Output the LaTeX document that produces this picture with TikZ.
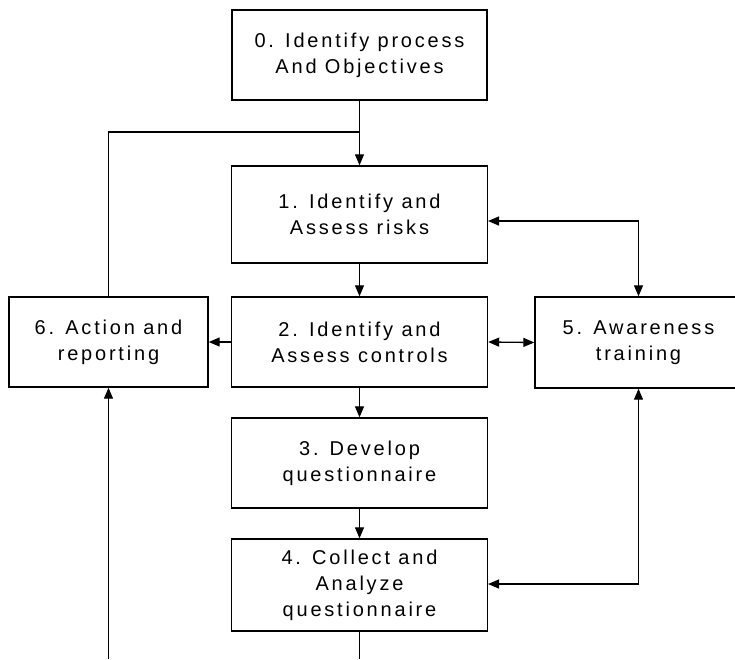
\documentclass[tikz,border=0pt]{standalone}
\usepackage{fontspec}
\setmainfont{Liberation Sans}[LetterSpace=14]
\usetikzlibrary{arrows.meta,calc}
\tikzset{
  stepbox/.style={draw, line width=1.4pt, inner sep=0pt, align=center,
    font=\fontsize{20}{26}\selectfont},
  conn/.style={line width=1.3pt},
  arr/.style={conn, -{Triangle[length=11pt,width=9pt]}},
  arrboth/.style={conn, {Triangle[length=11pt,width=9pt]}-{Triangle[length=11pt,width=9pt]}}
}
\begin{document}
\begin{tikzpicture}[x=1pt,y=-1pt]
\clip (0,0) rectangle (735,659);
\fill[white] (0,0) rectangle (735,659);
\node[stepbox, minimum width=255pt, minimum height=90pt] (b0) at (359.5,55) {0. Identify process\\And Objectives};
\node[stepbox, minimum width=256pt, minimum height=97pt] (b1) at (359.5,214.5) {1. Identify and\\Assess risks};
\node[stepbox, minimum width=256pt, minimum height=90pt] (b2) at (359.5,342) {2. Identify and\\Assess controls};
\node[stepbox, minimum width=256pt, minimum height=90pt] (b3) at (359.5,463) {3. Develop\\questionnaire};
\node[stepbox, minimum width=256pt, minimum height=92pt] (b4) at (359.5,585) {4. Collect and\\Analyze\\questionnaire};
\node[stepbox, minimum width=207pt, minimum height=91pt] (b5) at (638.5,342.5) {5. Awareness\\training};
\node[stepbox, minimum width=199pt, minimum height=90pt] (b6) at (108.5,342) {6. Action and\\reporting};
\coordinate (m) at (359.5,132);
\coordinate (r1) at (488,221);
\coordinate (r4) at (488,584);
\coordinate (e6) at (108.5,659);
\coordinate (e4) at (359.5,659);
\draw[arr] (b0.south) -- (b1.north);
\draw[conn] (b6.north) |- (m);
\draw[arr] (b1.south) -- (b2.north);
\draw[arr] (b2.west) -- (b6.east);
\draw[arrboth] (b2.east) -- (b5.west);
\draw[arrboth] (r1) -| (b5.north);
\draw[arr] (b2.south) -- (b3.north);
\draw[arr] (b3.south) -- (b4.north);
\draw[arrboth] (r4) -| (b5.south);
\draw[arr] (e6) -- (b6.south);
\draw[conn] (b4.south) -- (e4);
\end{tikzpicture}
\end{document}
